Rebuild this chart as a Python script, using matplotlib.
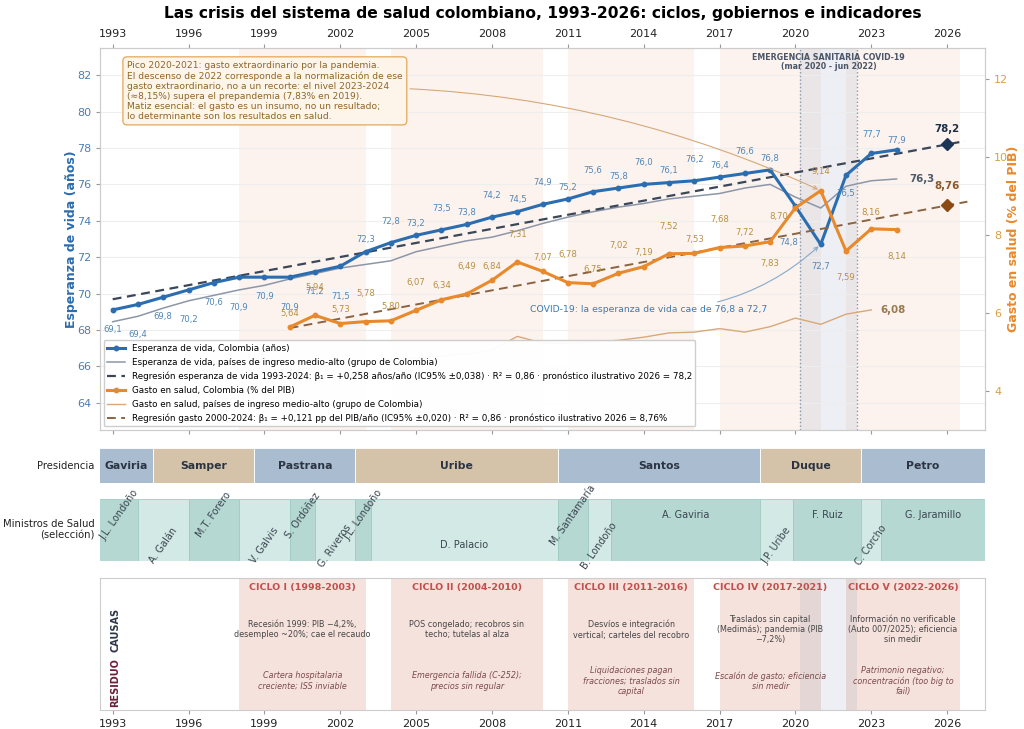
import numpy as np
import matplotlib.pyplot as plt
from matplotlib.lines import Line2D

# --- data -----------------------------------------------------------------
years_le = list(range(1993, 2025))
le_colombia = [69.1, 69.4, 69.8, 70.2, 70.6, 70.9, 70.9, 70.9, 71.2, 71.5,
               72.3, 72.8, 73.2, 73.5, 73.8, 74.2, 74.5, 74.9, 75.2, 75.6,
               75.8, 76.0, 76.1, 76.2, 76.4, 76.6, 76.8, 74.8, 72.7, 76.5,
               77.7, 77.9]
le_mid_income = [68.45, 68.75, 69.2, 69.6, 69.9, 70.2, 70.45, 70.8, 71.1, 71.4,
                 71.6, 71.8, 72.3, 72.6, 72.9, 73.1, 73.45, 73.85, 74.2, 74.5,
                 74.75, 74.95, 75.2, 75.35, 75.5, 75.8, 76.0, 75.3, 74.7, 75.9,
                 76.2, 76.3]

years_gasto = list(range(2000, 2025))
gasto_colombia = [5.64, 5.94, 5.73, 5.78, 5.80, 6.07, 6.34, 6.49, 6.84, 7.31,
                  7.07, 6.78, 6.75, 7.02, 7.19, 7.52, 7.53, 7.68, 7.72, 7.83,
                  8.70, 9.14, 7.59, 8.16, 8.14]
years_gasto_mid = list(range(2000, 2024))
gasto_mid_income = [4.55, 4.60, 4.70, 4.75, 4.80, 4.85, 4.90, 4.95, 5.05, 5.40,
                    5.23, 5.22, 5.26, 5.30, 5.38, 5.49, 5.51, 5.60, 5.51, 5.65,
                    5.87, 5.71, 5.97, 6.08]

# regression summaries (from the legend)
le_beta, le_forecast_2026 = 0.258, 78.2
gasto_beta, gasto_forecast_2026 = 0.121, 8.76

pres_names = ["Gaviria", "Samper", "Pastrana", "Uribe", "Santos", "Duque", "Petro"]
pres_start = [1990.6, 1994.6, 1998.6, 2002.6, 2010.6, 2018.6, 2022.6]
pres_end = [1994.6, 1998.6, 2002.6, 2010.6, 2018.6, 2022.6, 2027.5]

min_names = ["J.L. Londoño", "A. Galán", "M.T. Forero", "V. Galvis", "S. Ordóñez",
             "G. Riveros", "J.L. Londoño", "D. Palacio", "M. Santamaría",
             "B. Londoño", "A. Gaviria", "J.P. Uribe", "F. Ruiz", "C. Corcho",
             "G. Jaramillo"]
min_start = [1992.0, 1994.0, 1996.0, 1998.0, 2000.0, 2001.0, 2002.6, 2003.2,
             2010.6, 2011.8, 2012.7, 2018.6, 2019.9, 2022.6, 2023.4]
min_end = [1994.0, 1996.0, 1998.0, 2000.0, 2001.0, 2002.6, 2003.2, 2010.6,
           2011.8, 2012.7, 2018.6, 2019.9, 2022.6, 2023.4, 2027.5]

cycle_titles = ["CICLO I (1998-2003)", "CICLO II (2004-2010)", "CICLO III (2011-2016)",
                "CICLO IV (2017-2021)", "CICLO V (2022-2026)"]
cycle_start = [1998, 2004, 2011, 2017, 2022]
cycle_end = [2003, 2010, 2016, 2021, 2026.5]
cycle_causes = ["Recesión 1999: PIB −4,2%,\ndesempleo ~20%; cae el recaudo",
                "POS congelado; recobros sin\ntecho; tutelas al alza",
                "Desvíos e integración\nvertical; carteles del recobro",
                "Traslados sin capital\n(Medimás); pandemia (PIB\n−7,2%)",
                "Información no verificable\n(Auto 007/2025); eficiencia\nsin medir"]
cycle_residue = ["Cartera hospitalaria\ncreciente; ISS inviable",
                 "Emergencia fallida (C-252);\nprecios sin regular",
                 "Liquidaciones pagan\nfracciones; traslados sin\ncapital",
                 "Escalón de gasto; eficiencia\nsin medir",
                 "Patrimonio negativo;\nconcentración (too big to\nfail)"]

covid_start, covid_end = 2020.17, 2022.45

XMIN, XMAX = 1992.5, 2027.5
BLUE = "#2a6db0"
ORANGE = "#e8892b"


def fmt(v, nd):
    return f"{v:.{nd}f}".replace(".", ",")


fig = plt.figure(figsize=(10.24, 7.29), dpi=100)
L, W = 0.0977, 0.8643
ax = fig.add_axes([L, 0.4102, W, 0.524])
ax2 = ax.twinx()
axp = fig.add_axes([L, 0.3374, W, 0.048])
axm = fig.add_axes([L, 0.2305, W, 0.085])
axc = fig.add_axes([L, 0.026, W, 0.181])

fig.text(L + W / 2, 0.981, "Las crisis del sistema de salud colombiano, 1993-2026: "
         "ciclos, gobiernos e indicadores", ha="center", va="center",
         fontsize=11.2, fontweight="bold")

# --- main panel -----------------------------------------------------------
for s, e in zip(cycle_start, cycle_end):
    ax.axvspan(s, e, color="#fcf3ef", lw=0, zorder=0)
ax.axvspan(covid_start, covid_end, color="#7080a8", alpha=0.12, lw=0, zorder=0.2)
for xv in (covid_start, covid_end):
    ax.axvline(xv, color="#8a96b0", ls=":", lw=1.0, zorder=1)

ax.plot(years_le, le_mid_income, color="#8c96a8", lw=1.1, zorder=2)
ax.plot(years_le, le_colombia, color=BLUE, lw=2.2, marker="o", ms=3.2, zorder=4)
reg_x = np.array([1993, 2026.7])
ax.plot(reg_x, le_forecast_2026 + le_beta * (reg_x - 2026), color="#3b4759",
        lw=1.6, ls=(0, (4, 2.5)), zorder=3)
ax.plot([2026], [le_forecast_2026], marker="D", ms=6.5, color="#1b3556", zorder=5)
ax.annotate(fmt(le_forecast_2026, 1), (2026, le_forecast_2026), xytext=(0, 11),
            textcoords="offset points", ha="center", va="center", fontsize=7.4,
            fontweight="bold", color="#1b2f45")
ax.annotate(fmt(le_mid_income[-1], 1), (years_le[-1], le_mid_income[-1]),
            xytext=(9, 0), textcoords="offset points", ha="left", va="center",
            fontsize=7.4, fontweight="bold", color="#4d5a6a")

le_off = {}
for yr in years_le:
    if yr <= 2002:
        le_off[yr] = (0, -14 if yr % 2 else -21.5)
    else:
        le_off[yr] = (0, 8.5 if yr % 2 else 15.5)
le_off.update({2020: (-5, -26), 2021: (0, -16), 2022: (0, -13),
               2023: (0, 14), 2024: (0, 7)})
for yr, v in zip(years_le, le_colombia):
    ax.annotate(fmt(v, 1), (yr, v), xytext=le_off[yr], textcoords="offset points",
                ha="center", va="center", fontsize=6.1, color="#4f86b8", zorder=6)

ax.annotate("COVID-19: la esperanza de vida cae de 76,8 a 72,7", xy=(2021, 72.7),
            xytext=(2014.2, 69.1), ha="center", va="center", fontsize=6.7,
            color="#3a7bb5",
            arrowprops=dict(arrowstyle="->", color="#86a9cb", lw=0.8,
                            connectionstyle="arc3,rad=0.2"))

ax.text((covid_start + covid_end) / 2, 83.2,
        "EMERGENCIA SANITARIA COVID-19\n(mar 2020 - jun 2022)", ha="center",
        va="top", fontsize=5.7, fontweight="bold", color="#4a5568",
        linespacing=1.0)

# spending axis
ax2.plot(years_gasto_mid, gasto_mid_income, color="#d9a878", lw=1.0, zorder=2)
ax2.plot(years_gasto, gasto_colombia, color=ORANGE, lw=2.2, marker="o", ms=3.2,
         zorder=4)
reg_xg = np.array([2000, 2026.8])
ax2.plot(reg_xg, gasto_forecast_2026 + gasto_beta * (reg_xg - 2026),
         color="#8b6340", lw=1.4, ls=(0, (4.5, 2.8)), zorder=3)
ax2.plot([2026], [gasto_forecast_2026], marker="D", ms=6.5, color="#8b4a13", zorder=5)
ax2.annotate(fmt(gasto_forecast_2026, 2), (2026, gasto_forecast_2026),
             xytext=(0, 14), textcoords="offset points", ha="center", va="center",
             fontsize=7.4, fontweight="bold", color="#8b5a2b")
ax2.annotate(fmt(gasto_mid_income[-1], 2), (years_gasto_mid[-1], gasto_mid_income[-1]),
             xytext=(6.5, 0), textcoords="offset points", ha="left", va="center",
             fontsize=7.4, fontweight="bold", color="#9a7a50")

g_off = {yr: (0, 10 if yr % 2 == 0 else 20) for yr in years_gasto}
g_off.update({2019: (0, -16), 2020: (-12, -6.5), 2021: (0, 14), 2022: (0, -19),
              2023: (0, 11.5), 2024: (0, -19)})
for yr, v in zip(years_gasto, gasto_colombia):
    ax2.annotate(fmt(v, 2), (yr, v), xytext=g_off[yr], textcoords="offset points",
                 ha="center", va="center", fontsize=6.1, color="#b8903f", zorder=6)

note = ("Pico 2020-2021: gasto extraordinario por la pandemia.\n"
        "El descenso de 2022 corresponde a la normalización de ese\n"
        "gasto extraordinario, no a un recorte: el nivel 2023-2024\n"
        "(≈8,15%) supera el prepandemia (7,83% en 2019).\n"
        "Matiz esencial: el gasto es un insumo, no un resultado;\n"
        "lo determinante son los resultados en salud.")
ax2.annotate(note, xy=(2021, 9.14), xytext=(0.0305, 0.966), textcoords="axes fraction",
             ha="left", va="top", fontsize=6.6, color="#8f6526", zorder=7,
             linespacing=1.15,
             bbox=dict(boxstyle="round,pad=0.45", fc="#fdf5ea", ec="#e3a85a", lw=0.9),
             arrowprops=dict(arrowstyle="->", color="#d6a877", lw=0.8,
                             connectionstyle="arc3,rad=-0.13"))

handles = [
    Line2D([], [], color=BLUE, lw=2.2, marker="o", ms=3.2),
    Line2D([], [], color="#8c96a8", lw=1.1),
    Line2D([], [], color="#3b4759", lw=1.6, ls=(0, (4, 2.5))),
    Line2D([], [], color=ORANGE, lw=2.2, marker="o", ms=3.2),
    Line2D([], [], color="#d9a878", lw=1.0),
    Line2D([], [], color="#8b6340", lw=1.4, ls=(0, (4.5, 2.8))),
]
labels = [
    "Esperanza de vida, Colombia (años)",
    "Esperanza de vida, países de ingreso medio-alto (grupo de Colombia)",
    "Regresión esperanza de vida 1993-2024: β₁ = +0,258 años/año (IC95% ±0,038) · "
    "R² = 0,86 · pronóstico ilustrativo 2026 = 78,2",
    "Gasto en salud, Colombia (% del PIB)",
    "Gasto en salud, países de ingreso medio-alto (grupo de Colombia)",
    "Regresión gasto 2000-2024: β₁ = +0,121 pp del PIB/año (IC95% ±0,020) · "
    "R² = 0,86 · pronóstico ilustrativo 2026 = 8,76%",
]
leg = ax2.legend(handles, labels, loc="lower left", fontsize=6.3, framealpha=0.96,
                 edgecolor="#cccccc", borderaxespad=0.4, handlelength=2.0,
                 labelspacing=0.55)
leg.set_zorder(8)

ax.set_xlim(XMIN, XMAX)
ax.set_ylim(62.5, 83.5)
ax2.set_ylim(3.0, 12.8)
ax.set_xticks(range(1993, 2027, 3))
ax.tick_params(axis="x", top=True, labeltop=True, bottom=True, labelbottom=False,
               labelsize=8, colors="#222222", length=3, color="#999999")
ax.set_yticks(range(64, 83, 2))
ax.tick_params(axis="y", labelsize=8, labelcolor="#4a7fb0", color="#999999", length=3)
ax2.set_yticks([4, 6, 8, 10, 12])
ax2.tick_params(axis="y", labelsize=8, labelcolor="#d9a040", color="#999999", length=3)
ax.set_ylabel("Esperanza de vida (años)", color=BLUE, fontsize=9, fontweight="bold",
              labelpad=-1)
ax2.set_ylabel("Gasto en salud (% del PIB)", color=ORANGE, fontsize=9,
               fontweight="bold", labelpad=-1)
ax.set_axisbelow(True)
ax.yaxis.grid(True, color="#eeeeee", lw=0.8)
for a in (ax, ax2):
    for sp in a.spines.values():
        sp.set_color("#cccccc")

# --- presidents -------------------------------------------------------------
axp.set_xlim(XMIN, XMAX)
axp.set_ylim(0, 1)
axp.axis("off")
pres_colors = ["#a9bcd0", "#d4c3a8"]
for i, (n, s, e) in enumerate(zip(pres_names, pres_start, pres_end)):
    axp.barh(0.5, e - s, left=s, height=1, color=pres_colors[i % 2],
             edgecolor="white", lw=0.6)
    cx = (max(s, XMIN) + min(e, XMAX)) / 2
    axp.text(cx, 0.5, n, ha="center", va="center", fontsize=7.8,
             fontweight="bold", color="#2b3442")
axp.text(-0.006, 0.5, "Presidencia", transform=axp.transAxes, ha="right",
         va="center", fontsize=7.2, color="#222222")

# --- ministers --------------------------------------------------------------
axm.set_xlim(XMIN, XMAX)
axm.set_ylim(0, 1)
axm.axis("off")
min_colors = ["#b5d8d2", "#d3e9e5"]
for i, (n, s, e) in enumerate(zip(min_names, min_start, min_end)):
    axm.barh(0.5, e - s, left=s, height=1, color=min_colors[i % 2],
             edgecolor="#9fcbc3", lw=0.6)
    vs, ve = max(s, XMIN), min(e, XMAX)
    cx = (vs + ve) / 2
    y = 0.74 if i % 2 == 0 else 0.25
    if ve - vs < 2.5:
        axm.text(cx, y, n, ha="center", va="center", rotation=55,
                 rotation_mode="anchor", fontsize=7, color="#3a4550", clip_on=False)
    else:
        axm.text(cx, y, n, ha="center", va="center", fontsize=7, color="#3a4550")
axm.text(-0.006, 0.5, "Ministros de Salud\n(selección)", transform=axm.transAxes,
         ha="right", va="center", fontsize=7.2, color="#222222", multialignment="right")

# --- cycles -----------------------------------------------------------------
axc.set_xlim(XMIN, XMAX)
axc.set_ylim(0, 1)
for s, e in zip(cycle_start, cycle_end):
    axc.axvspan(s, e, color="#f6e2dd", lw=0, zorder=0)
axc.axvspan(covid_start, covid_end, color="#7080a8", alpha=0.12, lw=0, zorder=0.2)
for t, c, r, s, e in zip(cycle_titles, cycle_causes, cycle_residue, cycle_start, cycle_end):
    cx = (s + e) / 2
    axc.text(cx, 0.93, t, ha="center", va="center", fontsize=6.8,
             fontweight="bold", color="#c0504d")
    axc.text(cx, 0.61, c, ha="center", va="center", fontsize=5.8, color="#454545")
    axc.text(cx, 0.22, r, ha="center", va="center", fontsize=5.8,
             style="italic", color="#7b4b4b")
axc.text(0.017, 0.61, "CAUSAS", transform=axc.transAxes, rotation=90, ha="center",
         va="center", fontsize=7, fontweight="bold", color="#2d3748")
axc.text(0.017, 0.21, "RESIDUO", transform=axc.transAxes, rotation=90, ha="center",
         va="center", fontsize=7, fontweight="bold", color="#6b1f3a")
axc.set_yticks([])
axc.set_xticks(range(1993, 2027, 3))
axc.tick_params(axis="x", labelsize=8, colors="#222222", length=3, color="#999999")
for sp in axc.spines.values():
    sp.set_color("#cccccc")

fig.savefig("out.png", dpi=100)
